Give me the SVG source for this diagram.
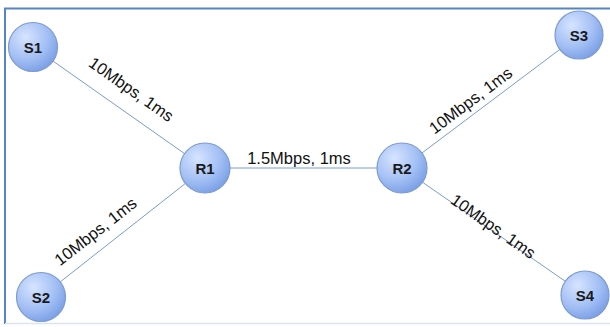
<svg xmlns="http://www.w3.org/2000/svg" width="610" height="327" viewBox="0 0 610 327">
<defs>
<radialGradient id="nodeFill" cx="0.35" cy="0.3" r="0.75">
<stop offset="0" stop-color="#d6e4ff"/>
<stop offset="0.6" stop-color="#a3bff4"/>
<stop offset="1" stop-color="#7a9fe6"/>
</radialGradient>
<style>
.node circle{fill:url(#nodeFill);stroke:#7d9bd0;stroke-width:1.2}
.node text{font-family:"Liberation Sans",Arial,sans-serif;font-weight:bold;font-size:15px;fill:#1a1a1a;text-anchor:middle}
.edge{stroke:#7a9ccc;stroke-width:1;fill:none}
.lbl{font-family:"Liberation Sans",Arial,sans-serif;font-size:16.5px;fill:#111;text-anchor:middle}
</style>
</defs>
<rect x="0" y="0" width="610" height="327" fill="#ffffff"/>
<g id="frame">
<line x1="4" y1="8.5" x2="610" y2="8.5" stroke="#5784c4" stroke-width="2"/>
<line x1="5" y1="8" x2="5" y2="324" stroke="#5784c4" stroke-width="2"/>
<line x1="5" y1="323.5" x2="610" y2="323.5" stroke="#dbe4f0" stroke-width="1.5"/>
</g>
<g id="connectors">
<line class="edge" x1="33" y1="47" x2="205" y2="168"/>
<line class="edge" x1="41" y1="297" x2="205" y2="168"/>
<line class="edge" x1="205" y1="168" x2="402" y2="168"/>
<line class="edge" x1="402" y1="168" x2="579" y2="35"/>
<line class="edge" x1="402" y1="168" x2="585" y2="295"/>
<text class="lbl" transform="translate(128,94) rotate(35)">10Mbps, 1ms</text>
<text class="lbl" transform="translate(99,236) rotate(-38)">10Mbps, 1ms</text>
<text class="lbl" x="299" y="164">1.5Mbps, 1ms</text>
<text class="lbl" transform="translate(474,105) rotate(-37)">10Mbps, 1ms</text>
<text class="lbl" transform="translate(490,231) rotate(35)">10Mbps, 1ms</text>
</g>
<g id="S1" class="node"><circle cx="33" cy="47" r="24.5"/><text x="33" y="52.5">S1</text></g>
<g id="S2" class="node"><circle cx="41" cy="297" r="24.5"/><text x="41" y="302.5">S2</text></g>
<g id="S3" class="node"><circle cx="579" cy="35" r="24"/><text x="579" y="40.5">S3</text></g>
<g id="S4" class="node"><circle cx="585" cy="295" r="24"/><text x="585" y="300.5">S4</text></g>
<g id="R1" class="node"><circle cx="205" cy="168" r="25"/><text x="205" y="173.5">R1</text></g>
<g id="R2" class="node"><circle cx="402" cy="168" r="25"/><text x="402" y="173.5">R2</text></g>
</svg>
